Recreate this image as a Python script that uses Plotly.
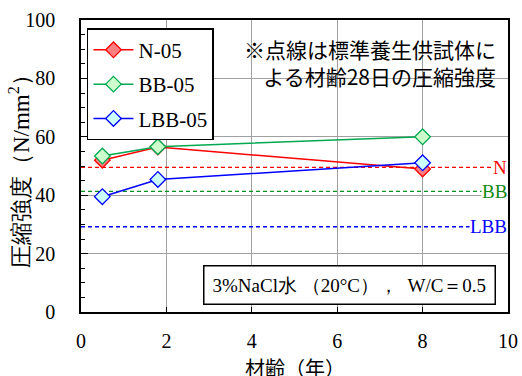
import plotly.graph_objects as go

years = [0.5, 1.8, 8]
n05 = [52.0, 56.5, 49.0]
bb05 = [53.4, 56.6, 60.0]
lbb05 = [39.5, 45.4, 51.1]
ref_names = ["N", "BB", "LBB"]
ref_vals = [49.5, 41.3, 29.2]

SERIF = "Liberation Serif"
SANS = "Noto Sans CJK JP"

line_cols = ["#FF0000", "#00A850", "#0000FF"]
fill_cols = ["#FF8080", "#CCFFCC", "#CCFFFF"]
ref_cols = ["#FF0000", "#009020", "#0000FF"]
ref_label_cols = ["#FF0000", "#118811", "#0000FF"]

fig = go.Figure()

for name, val, c in zip(ref_names, ref_vals, ref_cols):
    fig.add_trace(go.Scatter(x=[0, 10], y=[val, val], mode="lines",
                             line=dict(color=c, width=1.3, dash="4px,3px"),
                             showlegend=False, hoverinfo="skip"))

for i, (name, ys) in enumerate(zip(["N-05", "BB-05", "LBB-05"], [n05, bb05, lbb05])):
    fig.add_trace(go.Scatter(x=years, y=ys, mode="lines+markers", name=name,
                             legendgroup=name,
                             line=dict(color=line_cols[i], width=1.5),
                             marker=dict(symbol="diamond", size=12, color=fill_cols[i],
                                         line=dict(color=line_cols[i], width=1.3))))

for name, val, c in zip(ref_names, ref_vals, ref_label_cols):
    fig.add_annotation(x=10, y=val, xref="x", yref="y", text=name, showarrow=False,
                       xanchor="right", yanchor="middle", bgcolor="white",
                       font=dict(family=SERIF, size=19, color=c), borderpad=0)

fig.add_annotation(x=0.977, y=0.96, xref="paper", yref="paper",
                   text="※点線は標準養生供試体に<br>よる材齢28日の圧縮強度",
                   showarrow=False, xanchor="right", yanchor="top", align="right",
                   font=dict(family=SANS, size=21, color="black"))

fig.add_annotation(x=0.972, y=0.025, xref="paper", yref="paper",
                   text="3%NaCl水 （20°C），  W/C＝0.5",
                   showarrow=False, xanchor="right", yanchor="bottom",
                   font=dict(family=SERIF, size=19, color="black"),
                   bordercolor="black", borderwidth=1.5, borderpad=8, bgcolor="white")

# axis titles
fig.add_annotation(x=0.5, y=-0.19, xref="paper", yref="paper", text="材齢（年）",
                   showarrow=False, xanchor="center", yanchor="middle",
                   font=dict(family=SANS, size=20, color="black"))
fig.add_annotation(x=-0.145, y=0.5, xref="paper", yref="paper",
                   text="圧縮強度（N/mm<sup>2</sup>）", textangle=-90,
                   showarrow=False, xanchor="center", yanchor="middle",
                   font=dict(family=SERIF, size=23, color="black"))

fig.update_layout(
    width=522, height=376,
    margin=dict(l=81, r=14, t=20, b=64, autoexpand=False),
    paper_bgcolor="white", plot_bgcolor="white",
    font=dict(family=SERIF, size=20, color="black"),
    showlegend=True,
    legend=dict(x=0.014, y=0.972, xanchor="left", yanchor="top",
                bordercolor="black", borderwidth=1.5, bgcolor="white",
                font=dict(family=SERIF, size=21), tracegroupgap=4,
                itemwidth=40),
    xaxis=dict(range=[0, 10], dtick=2, showgrid=True, gridcolor="#A0A0A0", gridwidth=1.3,
               showline=True, linecolor="black", linewidth=1.5, mirror=True,
               ticks="inside", ticklen=5, tickcolor="black", ticklabelstandoff=10,
               tickfont=dict(family=SERIF, size=20),
               zeroline=False, automargin=False),
    yaxis=dict(range=[0, 100], dtick=20, showgrid=True, gridcolor="#A0A0A0", gridwidth=1.3,
               showline=True, linecolor="black", linewidth=1.5, mirror=True,
               ticks="inside", ticklen=7, tickcolor="black", ticklabelstandoff=20,
               tickfont=dict(family=SERIF, size=20),
               minor=dict(dtick=5, ticks="inside", ticklen=4, tickcolor="black", showgrid=False),
               zeroline=False, automargin=False),
)

fig.write_html("out.html", config={"displayModeBar": False},
               post_script="document.body.style.margin='0';")
